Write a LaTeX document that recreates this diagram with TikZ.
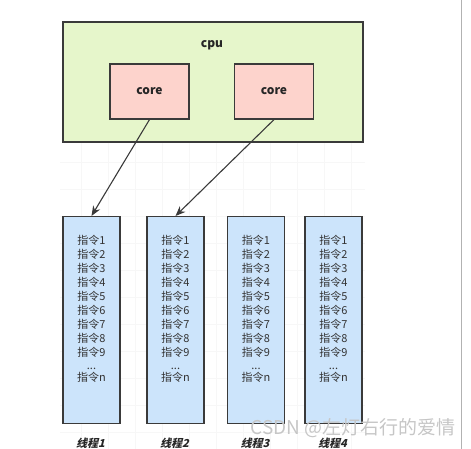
\documentclass[tikz,border=0pt]{standalone}
\usepackage{fontspec}
\setmainfont{Noto Sans CJK SC}
\usetikzlibrary{positioning, arrows.meta}

\definecolor{cpugreen}{HTML}{E6F6CB}
\definecolor{corered}{HTML}{FDD3CC}
\definecolor{threadblue}{HTML}{CCE4FB}
\definecolor{edgegray}{HTML}{3A3A3A}

\tikzset{
    box/.style={draw=edgegray, line width=1.2pt, inner sep=0pt},
    cpubox/.style={box, fill=cpugreen, minimum width=300pt, minimum height=120pt},
    corebox/.style={box, fill=corered, minimum width=79pt, minimum height=55pt, font=\bfseries\fontsize{12}{14}\selectfont, text=black!85},
    threadbox/.style={box, fill=threadblue, minimum width=57pt, minimum height=207pt, anchor=north},
    instr/.style={anchor=north, inner sep=0pt, align=center, font=\fontsize{11}{14}\selectfont, text=black!80},
    threadname/.style={inner sep=0pt, font=\bfseries\fontsize{11}{12}\selectfont, xslant=0.25, text=black!85},
    link/.style={draw=edgegray, line width=1.1pt, -{Stealth[length=10pt, width=8pt]}}
}

\newcommand{\instrlist}{指令1\\指令2\\指令3\\指令4\\指令5\\指令6\\指令7\\指令8\\指令9\\[-1pt]...\\[-2pt]指令n}

\begin{document}
\begin{tikzpicture}[x=1pt, y=-1pt]
        \useasboundingbox (0,0) rectangle (471,449);
        % faint grid of the canvas
        \draw[gray!6, step=27pt] (60,142) grid (365,449);
        \draw[gray!60] (461,0) -- (461,449);

        \node[cpubox] (cpu) at (213,82) {};
        \node[font=\bfseries\fontsize{12}{14}\selectfont, text=black!85] (cpulabel) at (212,45) {cpu};
        \node[corebox] (c1) at (149.5,91.5) {core};
        \node[corebox] (c2) at (274,91.5) {core};

        \foreach \x/\i in {91.5/1, 175.5/2, 256/3, 333.5/4} {
            \node[threadbox] (t\i) at (\x,216) {};
            \node[instr] (l\i) at ([yshift=-19pt]t\i.north) {\instrlist};
            \node[threadname] (n\i) at (\x,443) {线程\i};
        }

        \path[link] (c1.south) -- (t1.north);
        \path[link] (c2.south) -- (t2.north);

        \node[text=gray!45, font=\fontsize{19}{20}\selectfont, anchor=east, inner sep=0pt] (mark) at (456,428) {CSDN @左灯右行的爱情};
    \end{tikzpicture}
\end{document}
